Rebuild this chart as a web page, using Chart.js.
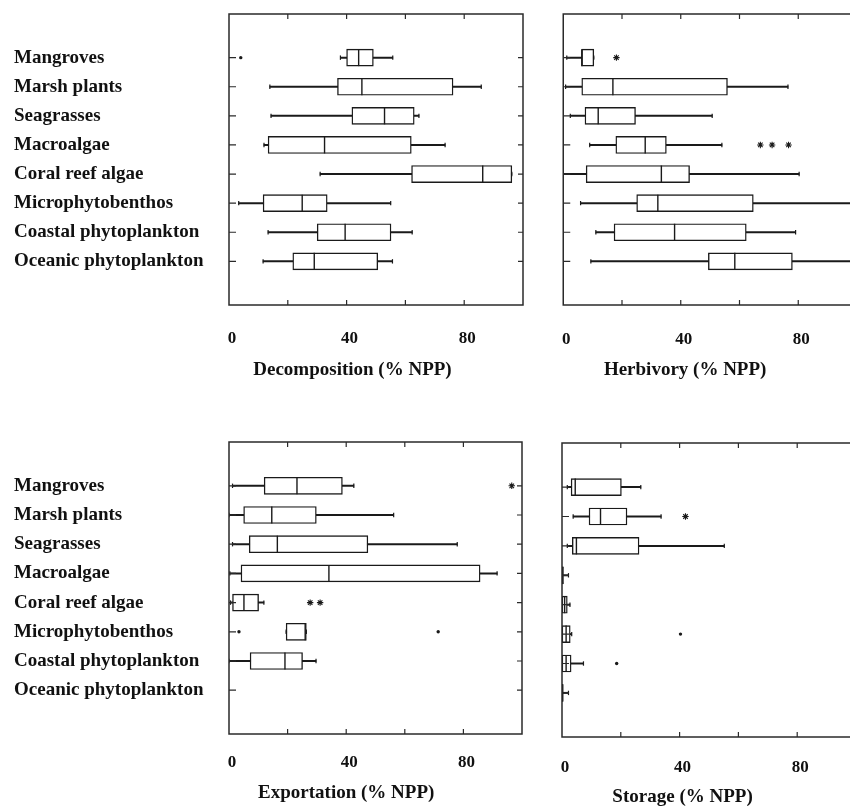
<!DOCTYPE html>
<html>
<head>
<meta charset="utf-8">
<script src="https://cdn.jsdelivr.net/npm/chart.js@4.4.0/dist/chart.umd.min.js"></script>
<style>
  html, body { margin: 0; padding: 0; background: #fff; overflow: hidden; width: 850px; height: 807px; }
  canvas { position: absolute; }
</style>
</head>
<body>
<canvas id="decomp" width="546" height="400" style="left:0;top:0"></canvas>
<canvas id="herb" width="346" height="400" style="left:535px;top:0"></canvas>
<canvas id="export" width="540" height="407" style="left:0;top:400px"></canvas>
<canvas id="store" width="341" height="407" style="left:535px;top:400px"></canvas>
<script>
var categories = ['Mangroves', 'Marsh plants', 'Seagrasses', 'Macroalgae',
                  'Coral reef algae', 'Microphytobenthos', 'Coastal phytoplankton', 'Oceanic phytoplankton'];
var tickLabels = [0, 40, 80];
var frameTicks = [20, 40, 60, 80];

// Decomposition (% NPP)
var decompLow  = [37.9, 13.9, 14.3, 11.9, 31.0,  3.3, 13.3, 11.6];
var decompQ1   = [40.0, 36.9, 41.8, 13.3, 62.1, 11.6, 30.0, 21.7];
var decompMed  = [44.1, 45.2, 52.9, 32.5, 86.3, 24.9, 39.5, 29.0];
var decompQ3   = [49.1, 76.2, 63.0, 62.0, 96.2, 33.4, 55.1, 50.6];
var decompHigh = [55.7, 85.8, 64.6, 73.5, 96.2, 55.0, 62.3, 55.6];
var decompStars = [];
var decompDots = [[0, 4.0]];

// Herbivory (% NPP)
var herbLow  = [1.2,  0.8,  2.4,  9.0,  0.0,  5.9, 11.1,  9.4];
var herbQ1   = [6.3,  6.3,  7.4, 17.9,  7.8, 25.0, 17.3, 49.4];
var herbMed  = [6.3, 16.9, 11.9, 27.9, 33.4, 32.2, 37.9, 58.4];
var herbQ3   = [10.4, 55.9, 24.6, 35.1, 43.0, 64.7, 62.3, 78.0];
var herbHigh = [10.4, 76.5, 50.7, 54.0, 80.3, 99.0, 79.1, 99.0];
var herbStars = [[0, 18.1], [3, 67.1], [3, 71.1], [3, 76.7]];
var herbDots = [];

// Exportation (% NPP)
var exportLow  = [1.2,  0.0,  1.2,  0.3,  0.5, 19.5,  0.0, null];
var exportQ1   = [12.0, 5.0,  6.9,  4.1,  1.2, 19.5,  7.2, null];
var exportMed  = [23.2, 14.6, 16.5, 34.1,  5.1, 26.0, 19.1, null];
var exportQ3   = [38.7, 29.8, 47.4, 85.7, 10.1, 26.4, 25.1, null];
var exportHigh = [42.6, 56.2, 77.9, 91.5, 11.9, 26.4, 29.7, null];
var exportStars = [[0, 96.5], [4, 27.7], [4, 31.1]];
var exportDots = [[5, 3.4], [5, 71.4]];

// Storage (% NPP)
var storeLow  = [1.8,  3.8,  1.8, 0.0, 0.0, 0.0, 0.0, 0.0];
var storeQ1   = [3.1,  9.2,  3.5, 0.0, 0.0, 0.0, 0.0, 0.0];
var storeMed  = [4.5, 13.1,  4.9, 0.2, 0.9, 1.4, 1.4, 0.2];
var storeQ3   = [20.2, 22.1, 26.2, 0.5, 1.8, 2.8, 3.1, 0.4];
var storeHigh = [26.8, 33.7, 55.2, 2.2, 2.7, 3.3, 7.3, 2.2];
var storeStars = [[1, 42.0]];
var storeDots = [[5, 40.3], [6, 18.6]];

var ink = '#1a1a1a';
var serif = '"Liberation Serif", "DejaVu Serif", "Times New Roman", serif';

// frame with inward ticks and the axis title, drawn from the chart's scales
var boxFrame = {
  id: 'boxFrame',
  afterDraw: function (chart, args, opts) {
    var ctx = chart.ctx, a = chart.chartArea;
    var xs = chart.scales.x, ys = chart.scales.y;
    ctx.save();
    ctx.strokeStyle = '#2a2a2a';
    ctx.lineWidth = 1.5;
    ctx.strokeRect(a.left, a.top, a.right - a.left, a.bottom - a.top);
    ctx.lineWidth = 1.2;
    ctx.beginPath();
    frameTicks.forEach(function (v) {
      var x = xs.getPixelForValue(v);
      ctx.moveTo(x, a.top); ctx.lineTo(x, a.top + 5);
      ctx.moveTo(x, a.bottom); ctx.lineTo(x, a.bottom - 5);
    });
    categories.forEach(function (c, i) {
      var y = ys.getPixelForValue(i + 1);
      ctx.moveTo(a.left, y); ctx.lineTo(a.left + 7, y);
      ctx.moveTo(a.right, y); ctx.lineTo(a.right - 5, y);
    });
    ctx.stroke();
    ctx.fillStyle = '#111';
    ctx.font = 'bold 19px ' + serif;
    ctx.textAlign = 'center';
    ctx.textBaseline = 'middle';
    ctx.fillText(opts.title, xs.getPixelForValue(opts.titleAt), a.bottom + opts.titleGap);
    ctx.restore();
  }
};
Chart.register(boxFrame);

function boxDatasets(lo, q1, med, q3, hi, stars, dots) {
  var whisk = [], boxes = [], meds = [], caps = [];
  categories.forEach(function (c, i) {
    if (q1[i] == null) return;
    var row = i + 1;
    whisk.push({x: [lo[i], hi[i]], y: row});
    boxes.push({x: [q1[i], q3[i]], y: row});
    meds.push({x: med[i], y: row});
    caps.push({x: lo[i], y: row}, {x: hi[i], y: row});
  });
  var toPts = function (list) { return list.map(function (p) { return {x: p[1], y: p[0] + 1}; }); };
  return [
    {type: 'bar', data: whisk, backgroundColor: ink, borderWidth: 0, barThickness: 1.3, grouped: false, order: 5},
    {type: 'bar', data: boxes, backgroundColor: '#fff', borderColor: ink, borderWidth: 1.4,
     borderSkipped: false, barThickness: 17, grouped: false, order: 4},
    {type: 'scatter', data: meds, pointStyle: 'line', rotation: 90, radius: 8.5,
     borderColor: ink, borderWidth: 1.4, order: 3},
    {type: 'scatter', data: caps, pointStyle: 'line', rotation: 90, radius: 2.2,
     borderColor: ink, borderWidth: 1.2, order: 3},
    {type: 'scatter', data: toPts(stars), pointStyle: 'star', radius: 3.2,
     borderColor: ink, borderWidth: 1.1, order: 2},
    {type: 'scatter', data: toPts(dots), pointStyle: 'circle', radius: 1.7,
     backgroundColor: ink, borderWidth: 0, order: 2}
  ];
}

function makePanel(id, sets, cfg) {
  return new Chart(document.getElementById(id), {
    type: 'bar',
    data: { datasets: sets },
    options: {
      responsive: false,
      animation: false,
      indexAxis: 'y',
      layout: { padding: { left: cfg.padLeft, top: cfg.padTop, right: 0, bottom: 0 } },
      plugins: {
        legend: { display: false },
        tooltip: { enabled: false },
        boxFrame: { title: cfg.title, titleAt: cfg.titleAt, titleGap: cfg.titleGap }
      },
      scales: {
        x: {
          type: 'linear', min: 0, max: 100,
          afterFit: function (s) { s.height = cfg.xHeight; },
          grid: { display: false, drawTicks: false },
          border: { display: false },
          ticks: {
            stepSize: 20, autoSkip: false, maxRotation: 0, padding: cfg.tickPad, labelOffset: 3,
            color: '#111', font: { family: serif, weight: 'bold', size: 17 },
            callback: function (v) { return tickLabels.indexOf(v) >= 0 ? String(v) : ''; }
          }
        },
        y: {
          type: 'linear', min: 0, max: 9, reverse: true,
          afterFit: function (s) { s.width = cfg.yWidth; },
          grid: { display: false, drawTicks: false },
          border: { display: false },
          ticks: {
            display: cfg.showNames, stepSize: 1, autoSkip: false, padding: 0, crossAlign: 'far',
            color: '#111', font: { family: serif, weight: 'bold', size: 19 },
            callback: function (v) { return categories[v - 1] || ''; }
          }
        }
      }
    }
  });
}

makePanel('decomp',
  boxDatasets(decompLow, decompQ1, decompMed, decompQ3, decompHigh, decompStars, decompDots),
  { padLeft: 14, padTop: 14, yWidth: 215, xHeight: 95, tickPad: 23,
    showNames: true, title: 'Decomposition (% NPP)', titleAt: 42, titleGap: 65 });

makePanel('herb',
  boxDatasets(herbLow, herbQ1, herbMed, herbQ3, herbHigh, herbStars, herbDots),
  { padLeft: 0, padTop: 14, yWidth: 28, xHeight: 95, tickPad: 24,
    showNames: false, title: 'Herbivory (% NPP)', titleAt: 41.5, titleGap: 65 });

makePanel('export',
  boxDatasets(exportLow, exportQ1, exportMed, exportQ3, exportHigh, exportStars, exportDots),
  { padLeft: 14, padTop: 42, yWidth: 215, xHeight: 73, tickPad: 18,
    showNames: true, title: 'Exportation (% NPP)', titleAt: 40, titleGap: 59 });

makePanel('store',
  boxDatasets(storeLow, storeQ1, storeMed, storeQ3, storeHigh, storeStars, storeDots),
  { padLeft: 0, padTop: 43, yWidth: 27, xHeight: 70, tickPad: 20,
    showNames: false, title: 'Storage (% NPP)', titleAt: 41, titleGap: 60 });
</script>
</body>
</html>
